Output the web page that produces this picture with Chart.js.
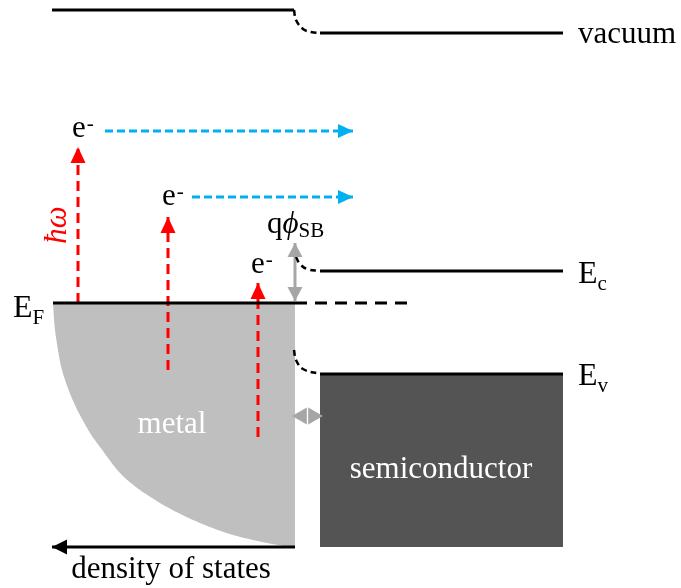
<!DOCTYPE html>
<html>
<head>
<meta charset="utf-8">
<script src="https://cdn.jsdelivr.net/npm/chart.js@4.4.1/dist/chart.umd.min.js"></script>
<style>
  html,body{margin:0;padding:0;background:#fff}
  #wrap{width:681px;height:588px;position:relative}
</style>
</head>
<body>
<div id="wrap"><canvas id="band"></canvas></div>
<script>
// axes: x = position (arb. units), y = E - E_F (arb. units)
const xRange = [0, 13.62];
const yRange = [-5.70, 6.06];

// vacuum level
const vacMetalX = [1.04, 5.88], vacMetalY = 5.86;
const vacBendX = [5.88, 5.92, 6.06, 6.22, 6.40];
const vacBendY = [5.86, 5.66, 5.48, 5.42, 5.40];
const vacSemiX = [6.40, 11.26], vacSemiY = 5.40;

// conduction band
const ecBendX = [5.92, 6.00, 6.14, 6.40];
const ecBendY = [0.92, 0.78, 0.68, 0.64];
const ecX = [6.40, 11.26], ecY = 0.64;

// valence band
const evBendX = [5.88, 5.92, 6.06, 6.40];
const evBendY = [-0.94, -1.14, -1.32, -1.42];
const evX = [6.40, 11.26], evY = -1.42;
const bandBottom = -4.88;

// Fermi level
const efX = [1.06, 5.90], efDashX = [5.90, 8.14], efY = 0;

// metal density of states (edge of filled area)
const dosX = [1.06, 1.10, 1.24, 1.48, 1.80, 2.00, 2.40, 2.80, 3.34, 4.00, 4.66, 5.34, 5.90];
const dosY = [0, -0.54, -1.34, -2.00, -2.60, -2.88, -3.40, -3.74, -4.08, -4.40, -4.64, -4.80, -4.90];
const dosAxisX = [5.90, 1.04], dosAxisY = -4.88;

// photo-excitation (red) and emission (blue)
const photonX = [1.56, 3.36, 5.16];
const photonFrom = [0, -1.34, -2.68];
const photonTo = [3.12, 1.72, 0.40];
const emitY = [3.44, 2.12];
const emitFrom = [2.10, 3.84];
const emitTo = 7.06;

// barrier height arrow and interface gap arrow
const barrierX = 5.90, barrierY = [0.04, 1.20];
const gapY = -2.26, gapX = [5.84, 6.46];

const pts = (xs, ys) => xs.map((x, i) => ({x: x, y: Array.isArray(ys) ? ys[i] : ys}));

const SERIF = '"Liberation Serif", "Times New Roman", serif';
const RED = '#ff0000', BLUE = '#00b0f0', GREY = '#a6a6a6';

function line(data, color, width, dash, extra){
  return Object.assign({data: data, showLine: true, borderColor: color, borderWidth: width,
    borderDash: dash || [], pointRadius: 0, fill: false, order: 1, borderCapStyle: 'butt'}, extra || {});
}

const datasets = [];
// filled areas (drawn first)
datasets.push(line(pts(dosX, dosY), 'rgba(0,0,0,0)', 0, null,
  {fill: 'origin', backgroundColor: '#bfbfbf', tension: 0.3, order: 10}));
datasets.push(line(pts(evX, evY), '#000', 3, null,
  {fill: {value: bandBottom}, backgroundColor: '#545454', order: 9}));
// band lines
datasets.push(line(pts(vacMetalX, vacMetalY), '#000', 3));
datasets.push(line(pts(vacBendX, vacBendY), '#000', 2.5, [6, 4], {tension: 0.4}));
datasets.push(line(pts(vacSemiX, vacSemiY), '#000', 3));
datasets.push(line(pts(ecBendX, ecBendY), '#000', 2.5, [6, 4], {tension: 0.4}));
datasets.push(line(pts(ecX, ecY), '#000', 3));
datasets.push(line(pts(evBendX, evBendY), '#000', 2.5, [6, 4], {tension: 0.4}));
datasets.push(line(pts(efX, efY), '#000', 3));
datasets.push(line(pts(efDashX, efY), '#000', 3, [12, 8]));
// arrows
datasets.push(line(pts(dosAxisX, dosAxisY), '#000', 3, null, {heads: {end: true, len: 15, width: 15}}));
photonX.forEach((x, i) => {
  datasets.push(line([{x: x, y: photonFrom[i]}, {x: x, y: photonTo[i]}], RED, 3, [10, 6],
    {heads: {end: true, len: 16, width: 15}}));
});
emitY.forEach((y, i) => {
  datasets.push(line([{x: emitFrom[i], y: y}, {x: emitTo, y: y}], BLUE, 3, [8, 4],
    {heads: {end: true, len: 15, width: 14}}));
});
datasets.push(line(pts([barrierX, barrierX], barrierY), GREY, 3, null,
  {heads: {end: true, start: true, len: 14, width: 15}}));
datasets.push(line(pts(gapX, gapY), GREY, 0, null,
  {heads: {end: true, start: true, len: 14.8, width: 17}}));

// text labels: anchor in data units, parts drawn left to right
const labels = [
  {x: 11.56, y: 5.20, parts: [{t: 'vacuum'}]},
  {x: 11.56, y: 0.40, parts: [{t: 'E', size: 32}, {t: 'c', sub: true}]},
  {x: 11.56, y: -1.64, parts: [{t: 'E', size: 32}, {t: 'v', sub: true}]},
  {x: 0.26, y: -0.28, parts: [{t: 'E', size: 32}, {t: 'F', sub: true}]},
  {x: 1.44, y: 3.32, parts: [{t: 'e'}, {t: '-', sup: true}]},
  {x: 3.24, y: 1.96, parts: [{t: 'e'}, {t: '-', sup: true}]},
  {x: 5.02, y: 0.60, parts: [{t: 'e'}, {t: '-', sup: true}]},
  {x: 5.34, y: 1.40, parts: [{t: 'q'}, {t: '\u03d5', italic: true}, {t: 'SB', sub: true, dy: -3}]},
  {x: 1.16, y: 1.56, rotate: true, center: true, color: RED, parts: [{t: '\u0127\u03c9', italic: true}]},
  {x: 3.44, y: -2.60, center: true, color: '#fff', parts: [{t: 'metal'}]},
  {x: 8.82, y: -3.50, center: true, color: '#fff', parts: [{t: 'semiconductor'}]},
  {x: 3.42, y: -5.50, center: true, parts: [{t: 'density of states'}]}
];

const arrowPlugin = {
  id: 'arrowHeads',
  afterDatasetsDraw(chart){
    const ctx = chart.ctx;
    chart.data.datasets.forEach((ds, i) => {
      if(!ds.heads) return;
      const p = chart.getDatasetMeta(i).data;
      const n = p.length;
      const head = (tip, from) => {
        const a = Math.atan2(tip.y - from.y, tip.x - from.x);
        ctx.save();
        ctx.translate(tip.x, tip.y); ctx.rotate(a);
        ctx.beginPath();
        ctx.moveTo(0, 0); ctx.lineTo(-ds.heads.len, -ds.heads.width/2); ctx.lineTo(-ds.heads.len, ds.heads.width/2);
        ctx.closePath();
        ctx.fillStyle = ds.borderColor; ctx.fill();
        ctx.restore();
      };
      if(ds.heads.end) head(p[n-1], p[n-2]);
      if(ds.heads.start) head(p[0], p[1]);
    });
  }
};

const textPlugin = {
  id: 'texts',
  afterDraw(chart){
    const ctx = chart.ctx, xs = chart.scales.x, ys = chart.scales.y;
    labels.forEach(l => {
      const fontOf = p => (p.italic ? 'italic ' : '') + (p.sub || p.sup ? 21 : (p.size || 31)) + 'px ' + SERIF;
      let total = 0;
      l.parts.forEach(p => { ctx.font = fontOf(p); total += ctx.measureText(p.t).width; });
      ctx.save();
      ctx.translate(xs.getPixelForValue(l.x), ys.getPixelForValue(l.y));
      if(l.rotate) ctx.rotate(-Math.PI/2);
      ctx.fillStyle = l.color || '#000';
      ctx.textBaseline = l.rotate ? 'middle' : 'alphabetic';
      let cx = l.center ? -total/2 : 0;
      l.parts.forEach(p => {
        ctx.font = fontOf(p);
        const dy = p.sub ? 7 + (p.dy || 0) : (p.sup ? -7 : 0);
        ctx.fillText(p.t, cx + (p.sup ? 1 : 0), dy);
        cx += ctx.measureText(p.t).width;
      });
      ctx.restore();
    });
  }
};

new Chart(document.getElementById('band'), {
  type: 'scatter',
  data: {datasets: datasets},
  options: {
    responsive: true, maintainAspectRatio: false, animation: false,
    layout: {padding: 0},
    plugins: {legend: {display: false}, tooltip: {enabled: false}},
    scales: {
      x: {type: 'linear', min: xRange[0], max: xRange[1], display: false},
      y: {type: 'linear', min: yRange[0], max: yRange[1], display: false}
    }
  },
  plugins: [arrowPlugin, textPlugin]
});
</script>
</body>
</html>
